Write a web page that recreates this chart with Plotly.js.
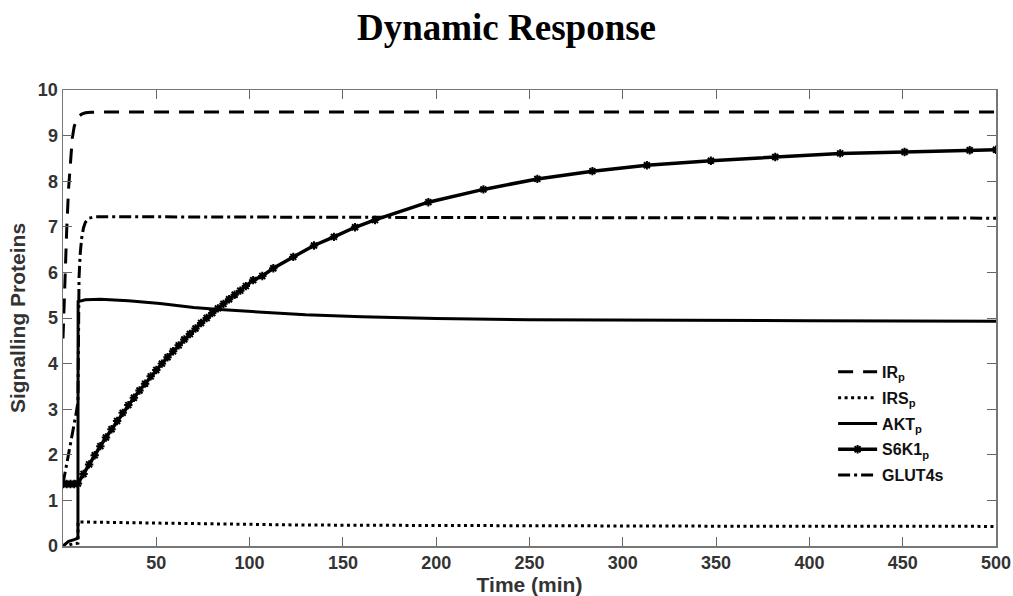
<!DOCTYPE html>
<html>
<head>
<meta charset="utf-8">
<script src="https://cdn.plot.ly/plotly-3.0.1.min.js"></script>
<style>html,body{margin:0;padding:0;background:#fff;}#chart{width:1013px;height:596px;}</style>
</head>
<body>
<div id="chart"></div>
<script>
// IR_p
const irT = [0,1,2,3,4,5,6,7,8,10,12,15,20,50,100,200,300,400,500];
const irY = [4.55,5.83,6.95,7.85,8.5,8.95,9.2,9.33,9.41,9.47,9.5,9.51,9.52,9.52,9.52,9.52,9.52,9.52,9.52];
// IRS_p
const irsT = [0,2,4,6,8,8.1,20,50,100,127,200,250,350,500];
const irsY = [0,0.02,0.04,0.05,0.06,0.53,0.52,0.5,0.47,0.46,0.45,0.44,0.435,0.43];
// AKT_p
const aktT = [0,1,3,6,8,8.1,12,20,35,52,70,82,105,130,160,200,250,300,400,500];
const aktY = [0,0.04,0.1,0.14,0.17,5.36,5.4,5.41,5.38,5.32,5.23,5.19,5.13,5.07,5.03,4.99,4.96,4.95,4.94,4.93];
// S6K1_p
const s6T = [0,2,4,6,8,11,14,17,20,23,26,29,32,35,38,41,44,47,50,53,56,59,62,65,68,71,74,77,80,83,86,89,92,95,98,
  101.9,106.8,112.7,123.4,134.5,145.2,156.5,167.2,195.8,225.3,254.2,283.7,312.9,347.2,381.7,416.5,451,485.9,500];
const s6Y = [1.36,1.36,1.36,1.36,1.37,1.58,1.79,1.99,2.19,2.38,2.56,2.74,2.92,3.09,3.25,3.41,3.56,3.72,3.86,4.00,4.14,4.27,4.40,4.53,4.65,4.77,4.89,5.00,5.11,5.21,5.31,5.41,5.51,5.60,5.70,
  5.83,5.92,6.09,6.34,6.59,6.78,6.99,7.15,7.54,7.82,8.05,8.22,8.35,8.45,8.53,8.61,8.64,8.68,8.69];
// GLUT4s
const gT = [0,1,2,3,4,5,6,7,8,8.3,8.6,9.2,10,11,12,14,17,30,100,250,500];
const gY = [1.37,1.55,1.8,2.02,2.22,2.45,2.68,2.9,3.15,4.5,5.9,6.4,6.75,6.98,7.1,7.19,7.22,7.22,7.21,7.2,7.19];

const names = ['IR<sub>p</sub>','IRS<sub>p</sub>','AKT<sub>p</sub>','S6K1<sub>p</sub>','GLUT4s'];
const xTicks = [50,100,150,200,250,300,350,400,450,500];
const yTicks = [0,1,2,3,4,5,6,7,8,9,10];

const traces = [
  {x: irT, y: irY, name: names[0], legendgroup: 'a', mode: 'lines', line: {color: '#000', width: 3, dash: '15px,10px'}},
  {x: irsT, y: irsY, name: names[1], legendgroup: 'b', mode: 'lines', line: {color: '#000', width: 3, dash: '3px,3.5px'}},
  {x: aktT, y: aktY, name: names[2], legendgroup: 'c', mode: 'lines', line: {color: '#000', width: 3}},
  {x: s6T, y: s6Y, name: names[3], legendgroup: 'd', mode: 'lines+markers', line: {color: '#000', width: 3.5},
    marker: {symbol: 'asterisk-open', size: 7, color: '#000', line: {color: '#000', width: 2}}},
  {x: gT, y: gY, name: names[4], legendgroup: 'e', mode: 'lines', line: {color: '#000', width: 3, dash: '12px,4px,3px,4px'}}
];

const tickFont = {family: 'Liberation Sans, Arial, sans-serif', size: 18, color: '#333', weight: 'bold'};
const titleFont = {family: 'Liberation Sans, Arial, sans-serif', size: 21, color: '#333', weight: 'bold'};

const layout = {
  width: 1013, height: 596,
  margin: {l: 63, r: 17, t: 90, b: 50},
  paper_bgcolor: '#fff', plot_bgcolor: '#fff',
  title: {text: 'Dynamic Response', x: 0.5, xref: 'container', xanchor: 'center', y: 0.955, yref: 'container', yanchor: 'middle',
    font: {family: 'Liberation Serif, Times New Roman, serif', size: 37, color: '#000', weight: 'bold'}},
  xaxis: {
    range: [0, 500], tickvals: xTicks, ticktext: xTicks.map(String),
    ticks: 'inside', ticklen: 9, tickcolor: '#666', tickwidth: 1,
    showline: true, linecolor: '#777', linewidth: 1.5, mirror: 'ticks',
    showgrid: false, zeroline: false, tickfont: tickFont, automargin: false,
    title: {text: 'Time (min)', font: titleFont, standoff: 0}
  },
  yaxis: {
    range: [0, 10], tickvals: yTicks, ticktext: yTicks.map(String),
    ticks: 'inside', ticklen: 9, tickcolor: '#666', tickwidth: 1,
    showline: true, linecolor: '#777', linewidth: 1.5, mirror: 'ticks',
    showgrid: false, zeroline: false, tickfont: tickFont, automargin: false,
    title: {text: 'Signalling Proteins', font: titleFont, standoff: 6}
  },
  showlegend: true,
  legend: {x: 0.8254, y: 0.419, xanchor: 'left', yanchor: 'top', bgcolor: 'rgba(0,0,0,0)',
    borderwidth: 0, itemwidth: 39, tracegroupgap: 2,
    font: {family: 'Liberation Sans, Arial, sans-serif', size: 16, color: '#111', weight: 'bold'}}
};

Plotly.newPlot('chart', traces, layout, {staticPlot: true, displayModeBar: false});
</script>
</body>
</html>
